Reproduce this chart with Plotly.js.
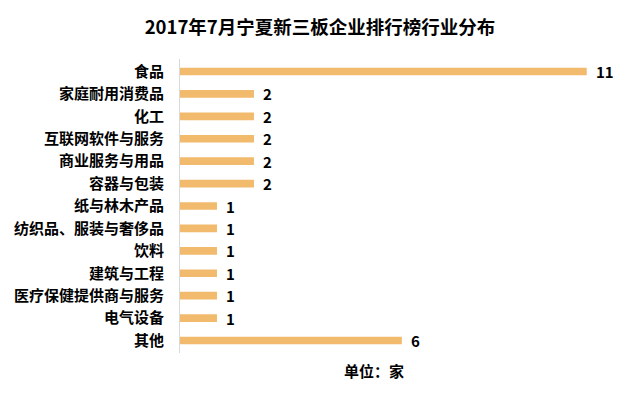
<!DOCTYPE html>
<html><head><meta charset="utf-8">
<script src="https://cdn.plot.ly/plotly-3.0.1.min.js"></script>
<style>html,body{margin:0;padding:0;background:#fff}#chart{width:640px;height:400px}</style>
</head><body><div id="chart"></div>
<script>
const categories = ["食品","家庭耐用消费品","化工","互联网软件与服务","商业服务与用品","容器与包装","纸与林木产品","纺织品、服装与奢侈品","饮料","建筑与工程","医疗保健提供商与服务","电气设备","其他"];
const counts = [11,2,2,2,2,2,1,1,1,1,1,1,6];
const titleText = "2017年7月宁夏新三板企业排行榜行业分布";
const unitText = "单位：家";
const F = "'Noto Sans CJK SC','Noto Sans',sans-serif";

const trace = {
  type: 'bar', orientation: 'h',
  x: counts, y: categories,
  marker: {color: '#F2BA6C'},
  width: 0.34,
  hoverinfo: 'none'
};
const anns = categories.map((c,i)=>({
  x: counts[i], y: c, xref:'x', yref:'y', text: '<b>'+counts[i]+'</b>',
  showarrow:false, xanchor:'left', xshift: 7,
  font:{family:F, size:15, color:'#000'}
}));
anns.push({xref:'paper', yref:'paper', x:0.44, y:-0.058, xanchor:'center', yanchor:'middle',
  text:'<b>'+unitText+'</b>', showarrow:false, font:{family:F,size:15,color:'#000'}});
const layout = {
  width:640, height:400,
  margin:{l:180, r:20, t:59, b:47},
  paper_bgcolor:'#fff', plot_bgcolor:'#fff',
  title:{text:'<b>'+titleText+'</b>', x:0.5, xanchor:'center', y:0.932, yanchor:'middle',
    font:{family:F, size:18.5, color:'#000'}},
  xaxis:{range:[0,11.9], showgrid:false, zeroline:false, showticklabels:false, showline:false, fixedrange:true},
  yaxis:{autorange:'reversed', showgrid:false, zeroline:false, showline:true, linecolor:'#d9d9d9', linewidth:1,
    ticks:'', ticklabelstandoff:12, tickfont:{family:F, size:15, color:'#000', weight:'bold'}},
  annotations: anns,
  showlegend:false
};
Plotly.newPlot('chart',[trace],layout,{displayModeBar:false,staticPlot:true});
</script></body></html>
